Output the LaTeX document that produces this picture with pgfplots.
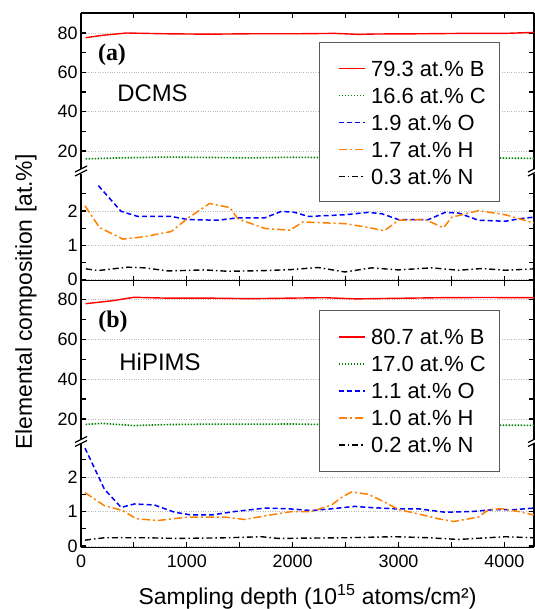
\documentclass[border=0pt]{standalone}
\usepackage{pgfplots}
\pgfplotsset{compat=1.18}
\usepackage{fontspec}
\setmainfont{Liberation Sans}
\newfontfamily\timesfont{Liberation Serif}
\definecolor{cB}{RGB}{255,0,0}
\definecolor{cC}{RGB}{0,128,0}
\definecolor{cO}{RGB}{0,0,255}
\definecolor{cH}{RGB}{255,128,0}
\definecolor{cN}{RGB}{0,0,0}
\definecolor{cL}{RGB}{90,90,90}
\tikzset{
  sB/.style={draw=cB, solid, line width=1.4bp},
  sC/.style={draw=cC, line width=1.6bp, dash pattern=on 1.5bp off 1.5bp},
  sO/.style={draw=cO, line width=1.5bp, dash pattern=on 5bp off 3bp},
  sH/.style={draw=cH, line width=1.5bp, dash pattern=on 8bp off 3bp on 2bp off 3bp},
  sN/.style={draw=cN, line width=1.4bp, dash pattern=on 6bp off 3bp on 1.5bp off 3bp}
}
\pgfplotsset{
  base/.style={scale only axis, width=453bp, xmin=0, xmax=4280,
    xtick={0,1000,2000,3000,4000}, minor xtick={500,1500,2500,3500},
    axis y line*=box,
    tick align=inside, major tick length=5bp, minor tick length=5bp,
    axis line style={line width=1.3bp, black},
    tick style={line width=1.1bp, black},
    ymajorgrids, major grid style={gray!55, dotted, line width=0.8bp},
    tick label style={font=\fontsize{18}{18}\selectfont},
    xticklabel style={yshift=-4bp},
    /pgf/number format/assume math mode=true,
    /pgf/number format/1000 sep={}},
  upper/.style={base, axis x line*=top, xticklabels={}, clip=false,
    ytick={20,40,60,80}, minor ytick={30,50,70}},
  lower/.style={base, axis x line*=bottom,
    ytick={0,1,2}, minor ytick={0.5,1.5,2.5}}
}
\def\legtext#1#2{%
  \node[anchor=base west, inner sep=0pt, font=\fontsize{22}{22}\selectfont] at (371bp,#1bp-7.8bp) {#2};}
\begin{document}
\begin{tikzpicture}
% ---------- Panel (a), lower segment ----------
\begin{axis}[lower, at={(81bp,328.3bp)}, anchor=south west, height=106.7bp,
  ymin=-0.035, ymax=3.08, xticklabels={}]
\addplot[sO] coordinates {(164,2.74) (379,1.99) (537,1.84) (852,1.84) (1010,1.75) (1294,1.73) (1483,1.80) (1736,1.80) (1894,1.99) (2020,1.96) (2146,1.84) (2494,1.89) (2715,1.96) (2841,1.92) (2999,1.75) (3283,1.75) (3441,1.96) (3567,1.94) (3756,1.73) (4009,1.70) (4135,1.77) (4277,1.82)};
\addplot[sH] coordinates {(38,2.15) (174,1.52) (395,1.18) (600,1.25) (852,1.40) (1010,1.79) (1215,2.22) (1405,2.10) (1483,1.77) (1736,1.49) (1973,1.44) (2099,1.68) (2494,1.63) (2715,1.52) (2866,1.42) (2999,1.73) (3251,1.75) (3425,1.51) (3504,1.82) (3756,2.01) (4009,1.89) (4277,1.65)};
\addplot[sN] coordinates {(47,0.31) (158,0.26) (442,0.36) (600,0.34) (821,0.25) (1168,0.28) (1389,0.24) (1736,0.26) (1989,0.29) (2241,0.35) (2494,0.22) (2746,0.34) (2999,0.28) (3315,0.34) (3567,0.27) (3788,0.32) (4009,0.27) (4277,0.31)};
\end{axis}
% ---------- Panel (a), upper segment (with legend) ----------
\begin{axis}[upper, at={(81bp,436bp)}, anchor=south west, height=160bp,
  ymin=8.81, ymax=90.17]
\addplot[sB] coordinates {(44,77.6) (200,78.8) (430,80.0) (800,79.6) (1200,79.4) (1600,79.6) (2000,79.6) (2400,79.8) (2617,79.3) (2800,79.5) (3200,79.6) (3600,79.8) (4000,79.8) (4280,80.3)};
\addplot[sC] coordinates {(44,16.0) (300,16.4) (800,16.9) (1200,16.7) (1600,16.5) (2000,16.8) (2400,16.6) (2800,16.5) (3200,16.6) (3600,16.7) (4000,16.4) (4280,16.2)};
\draw[cL, line width=1bp, fill=white] (axis cs:2257,75.42) rectangle (axis cs:3950,-5.93);
\addplot[sB] coordinates {(2437,61.95) (2683,61.95)};
\addplot[sC] coordinates {(2437,48.22) (2683,48.22)};
\addplot[sO] coordinates {(2437,34.49) (2683,34.49)};
\addplot[sH] coordinates {(2437,20.76) (2683,20.76)};
\addplot[sN] coordinates {(2437,7.03) (2683,7.03)};
\end{axis}
% ---------- Panel (b), lower segment ----------
\begin{axis}[lower, at={(81bp,61.5bp)}, anchor=south west, height=103.5bp,
  ymin=-0.043, ymax=2.96]
\addplot[sO] coordinates {(38,2.84) (221,1.65) (379,1.12) (505,1.22) (694,1.19) (884,0.98) (1042,0.90) (1231,0.90) (1452,1.0) (1736,1.10) (1957,1.08) (2178,1.03) (2367,1.08) (2588,1.15) (2715,1.12) (2967,1.08) (3188,1.08) (3441,0.98) (3693,1.0) (3914,1.06) (4072,1.05) (4277,1.10)};
\addplot[sH] coordinates {(38,1.55) (221,1.17) (395,1.03) (521,0.79) (726,0.74) (1010,0.84) (1231,0.84) (1357,0.84) (1547,0.77) (1768,0.89) (1989,1.0) (2178,1.0) (2367,1.19) (2462,1.41) (2557,1.57) (2715,1.5) (2872,1.27) (2999,1.06) (3188,0.93) (3378,0.79) (3520,0.71) (3756,0.84) (3851,1.06) (3977,1.08) (4135,1.0) (4277,0.90)};
\addplot[sN] coordinates {(38,0.17) (221,0.24) (600,0.24) (915,0.22) (1389,0.24) (1705,0.27) (1862,0.22) (2494,0.24) (2967,0.27) (3283,0.24) (3567,0.19) (4009,0.27) (4277,0.24)};
\end{axis}
% ---------- Panel (b), upper segment (with legend) ----------
\begin{axis}[upper, at={(81bp,166bp)}, anchor=south west, height=162.3bp,
  ymin=7.97, ymax=89.32]
\addplot[sB] coordinates {(44,77.8) (300,79.3) (500,81.0) (800,80.6) (1200,80.6) (1600,80.3) (2000,80.6) (2300,80.8) (2600,80.2) (3000,80.5) (3400,80.8) (3800,80.9) (4280,80.8)};
\addplot[sC] coordinates {(44,17.3) (200,17.8) (500,16.7) (800,17.2) (1200,17.4) (1600,17.4) (2000,17.5) (2400,17.1) (2800,17.0) (3200,16.9) (3600,17.1) (4000,16.9) (4280,16.8)};
\draw[cL, line width=1bp, fill=white] (axis cs:2257,74.28) rectangle (axis cs:3950,-6.41);
\addplot[sB] coordinates {(2437,61.10) (2683,61.10)};
\addplot[sC] coordinates {(2437,47.57) (2683,47.57)};
\addplot[sO] coordinates {(2437,34.03) (2683,34.03)};
\addplot[sH] coordinates {(2437,20.50) (2683,20.50)};
\addplot[sN] coordinates {(2437,6.97) (2683,6.97)};
\end{axis}
% ---------- legend texts ----------
\legtext{540.5}{79.3 at.\% B}
\legtext{513.5}{16.6 at.\% C}
\legtext{486.5}{1.9 at.\% O}
\legtext{459.5}{1.7 at.\% H}
\legtext{432.5}{0.3 at.\% N}
\legtext{272}{80.7 at.\% B}
\legtext{245}{17.0 at.\% C}
\legtext{218}{1.1 at.\% O}
\legtext{191}{1.0 at.\% H}
\legtext{164}{0.2 at.\% N}
% ---------- break marks ----------
\foreach \yb in {436, 165.5} {
  \fill[white] (75bp,\yb bp-3bp) -- (87bp,\yb bp+3bp) -- (87bp,\yb bp+7bp) -- (75bp,\yb bp+1bp) -- cycle;
  \draw[line width=1.2bp] (75bp,\yb bp-3bp) -- (87bp,\yb bp+3bp);
  \draw[line width=1.2bp] (75bp,\yb bp+1bp) -- (87bp,\yb bp+7bp);
  \fill[white] (528bp,\yb bp-3bp) -- (540bp,\yb bp+3bp) -- (540bp,\yb bp+7bp) -- (528bp,\yb bp+1bp) -- cycle;
  \draw[line width=1.2bp] (528bp,\yb bp-3bp) -- (540bp,\yb bp+3bp);
  \draw[line width=1.2bp] (528bp,\yb bp+1bp) -- (540bp,\yb bp+7bp);
}
% ---------- texts ----------
\node at (112bp,554bp) {\timesfont\bfseries\fontsize{24}{24}\selectfont (a)};
\node at (152.5bp,515.7bp) {\fontsize{24}{24}\selectfont DCMS};
\node at (113bp,287.3bp) {\timesfont\bfseries\fontsize{24}{24}\selectfont (b)};
\node at (160bp,247.3bp) {\fontsize{24}{24}\selectfont HiPIMS};
\node[rotate=90] at (26bp,307bp) {\fontsize{23}{23}\selectfont Elemental composition [at.\%]};
\node at (307.5bp,12bp) {\fontsize{23}{23}\selectfont Sampling depth (10\textsuperscript{15} atoms/cm²)};
\pgfresetboundingbox
\useasboundingbox (0,0) rectangle (535bp,609bp);
\end{tikzpicture}
\end{document}
